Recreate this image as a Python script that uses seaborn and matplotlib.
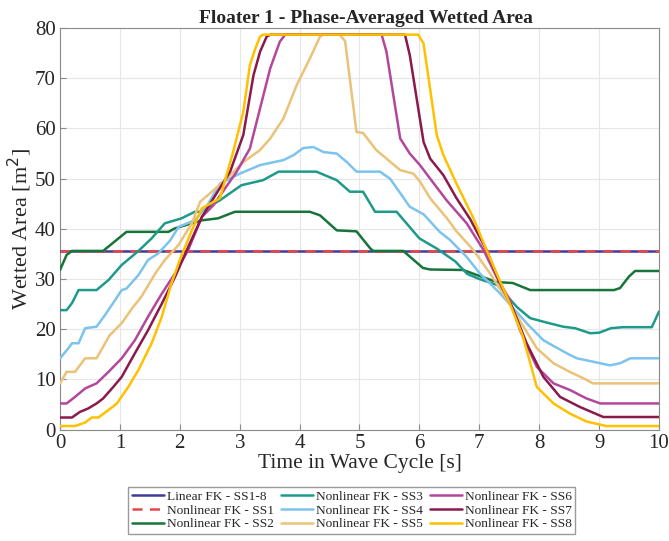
import numpy as np
import pandas as pd
import matplotlib
matplotlib.use("Agg")
import matplotlib.pyplot as plt
import seaborn as sns

# flat lines (linear FK and nonlinear SS1)
t_flat = [0, 10]
a_linear = [35.6, 35.6]
a_ss1 = [35.6, 35.6]

# SS2
t_ss2 = [0, 0.11, 0.2, 0.72, 1.11, 1.81, 1.92, 2.37, 2.64, 2.92, 4.17, 4.34, 4.62, 4.95, 5.18, 5.23,
         5.73, 6.06, 6.18, 6.73, 6.96, 7.29, 7.56, 7.85, 9.25, 9.35, 9.5, 9.6, 10]
a_ss2 = [31.8, 34.8, 35.6, 35.6, 39.4, 39.4, 40.1, 41.7, 42.1, 43.4, 43.4, 42.7, 39.7, 39.5, 36.1, 35.6,
         35.6, 32.2, 31.9, 31.8, 30.8, 29.4, 29.2, 27.8, 27.8, 28.2, 30.5, 31.6, 31.6]

# SS3
t_ss3 = [0, 0.11, 0.2, 0.31, 0.61, 0.81, 1.03, 1.31, 1.53, 1.75, 2.03, 2.25, 2.34, 2.67, 3.03, 3.39,
         3.65, 4.28, 4.62, 4.84, 5.06, 5.26, 5.62, 6.0, 6.3, 6.6, 6.8, 7.0, 7.3, 7.63, 7.85, 8.1, 8.4,
         8.6, 8.85, 9.0, 9.2, 9.4, 9.88, 10]
a_ss3 = [23.8, 23.8, 25.2, 27.8, 27.8, 29.8, 32.8, 35.6, 38.1, 41.1, 42.1, 43.4, 43.4, 45.7, 48.7, 49.7,
         51.4, 51.4, 49.7, 47.4, 47.4, 43.4, 43.4, 38.1, 36.0, 33.5, 31.0, 30.0, 28.8, 24.4, 22.2, 21.4, 20.5,
         20.2, 19.2, 19.3, 20.2, 20.4, 20.4, 23.5]

# SS4
t_ss4 = [0, 0.14, 0.2, 0.31, 0.42, 0.61, 0.75, 0.92, 1.03, 1.11, 1.31, 1.47, 1.64, 1.84, 1.98, 2.25,
         2.45, 2.67, 3.0, 3.34, 3.73, 3.9, 4.06, 4.23, 4.4, 4.62, 4.79, 4.95, 5.34, 5.51, 5.84, 6.07,
         6.34, 6.51, 6.79, 7.01, 7.35, 7.79, 8.07, 8.46, 8.63, 8.79, 9.18, 9.35, 9.52, 10]
a_ss4 = [14.2, 16.2, 17.2, 17.2, 20.2, 20.5, 22.8, 25.8, 27.8, 28.1, 30.8, 33.8, 35.1, 37.7, 40.4, 41.7,
         44.5, 49.0, 51.0, 52.7, 53.7, 54.7, 56.1, 56.3, 55.3, 55.0, 53.3, 51.4, 51.4, 50.0, 44.4, 42.9,
         39.4, 37.8, 34.4, 31.1, 27.1, 21.2, 17.8, 15.2, 14.2, 13.8, 12.8, 13.2, 14.2, 14.2]

# SS5
t_ss5 = [0, 0.11, 0.25, 0.42, 0.61, 0.83, 1.03, 1.2, 1.36, 1.59, 1.75, 1.98, 2.2, 2.34, 2.73, 3.06,
         3.34, 3.51, 3.73, 3.95, 4.17, 4.34, 4.4, 4.67, 4.76, 4.95, 5.06, 5.28, 5.45, 5.68, 5.9, 6.01,
         6.18, 6.46, 6.62, 6.9, 7.18, 7.4, 7.96, 8.24, 8.51, 8.74, 8.9, 10]
a_ss5 = [9.2, 11.5, 11.5, 14.2, 14.2, 18.8, 21.2, 24.1, 26.5, 31.1, 33.8, 36.8, 41.1, 45.4, 49.4, 53.3,
         55.7, 58.0, 62.0, 68.6, 73.9, 78.3, 78.7, 78.7, 77.4, 59.3, 59.1, 55.7, 54.0, 51.7, 51.0, 49.4,
         46.1, 42.1, 39.5, 35.8, 31.1, 27.1, 16.2, 13.2, 11.5, 10.2, 9.2, 9.2]

# SS6
t_ss6 = [0, 0.11, 0.25, 0.42, 0.61, 0.81, 1.03, 1.25, 1.47, 1.7, 1.92, 2.14, 2.37, 2.56, 2.95, 3.17,
         3.34, 3.51, 3.67, 3.76, 5.37, 5.45, 5.68, 5.84, 6.01, 6.18, 6.46, 6.79, 7.07, 7.29, 7.51, 7.68,
         7.96, 8.24, 8.51, 8.79, 9.02, 10]
a_ss6 = [5.2, 5.2, 6.5, 8.2, 9.2, 11.5, 14.2, 17.8, 22.5, 27.1, 31.1, 35.8, 42.4, 44.7, 51.4, 56.0,
         64.0, 72.0, 77.3, 78.7, 78.7, 75.3, 58.0, 55.0, 52.7, 50.0, 45.6, 41.1, 35.8, 30.4, 25.8, 19.8,
         12.5, 9.2, 7.9, 6.2, 5.2, 5.2]

# SS7
t_ss7 = [0, 0.2, 0.33, 0.47, 0.61, 0.72, 0.89, 1.03, 1.25, 1.47, 1.7, 1.92, 2.14, 2.37, 2.84, 3.06,
         3.23, 3.34, 3.45, 3.51, 5.76, 5.84, 6.07, 6.18, 6.4, 6.62, 6.85, 7.12, 7.35, 7.57, 7.79, 8.07,
         8.35, 8.68, 9.07, 10]
a_ss7 = [2.4, 2.4, 3.5, 4.2, 5.2, 6.2, 8.5, 10.5, 15.2, 19.8, 25.1, 30.4, 36.4, 42.4, 51.4, 58.7,
         70.6, 75.3, 78.3, 78.7, 78.7, 74.6, 57.3, 54.0, 50.7, 46.1, 41.9, 35.8, 29.1, 23.8, 17.2, 10.5,
         6.5, 4.5, 2.5, 2.5]

# SS8
t_ss8 = [0, 0.25, 0.42, 0.53, 0.64, 0.81, 0.95, 1.14, 1.31, 1.53, 1.7, 1.86, 2.0, 2.2, 2.37, 2.67,
         2.89, 3.06, 3.17, 3.26, 3.34, 3.39, 5.98, 6.07, 6.29, 6.4, 6.62, 6.9, 7.12, 7.29, 7.51, 7.73,
         7.96, 8.24, 8.51, 8.79, 9.12, 10]
a_ss8 = [0.7, 0.7, 1.4, 2.4, 2.4, 3.9, 5.2, 8.5, 11.9, 17.2, 22.5, 29.1, 33.8, 39.7, 44.1, 46.1,
         55.3, 63.3, 72.6, 75.9, 78.3, 78.7, 78.7, 76.9, 58.7, 54.7, 49.0, 42.2, 35.8, 31.1, 25.1, 18.5,
         8.5, 5.2, 3.2, 1.6, 0.7, 0.7]

labels = ["Linear FK - SS1-8", "Nonlinear FK - SS1", "Nonlinear FK - SS2", "Nonlinear FK - SS3",
          "Nonlinear FK - SS4", "Nonlinear FK - SS5", "Nonlinear FK - SS6", "Nonlinear FK - SS7",
          "Nonlinear FK - SS8"]
colors = ["#3f3a9a", "#e8474a", "#17743a", "#1e9a8a", "#7cc3ee", "#eac27a", "#b3479c", "#8a1a4c",
          "#ffc000"]

series = [(t_flat, a_linear), (t_flat, a_ss1), (t_ss2, a_ss2), (t_ss3, a_ss3), (t_ss4, a_ss4),
          (t_ss5, a_ss5), (t_ss6, a_ss6), (t_ss7, a_ss7), (t_ss8, a_ss8)]

sns.set_style("whitegrid", {"grid.color": "#e6e6e6", "axes.edgecolor": "#8a8a8a"})
plt.rcParams["font.family"] = ["Liberation Serif", "DejaVu Serif"]

fig = plt.figure(figsize=(6.69, 5.41), dpi=100)
ax = fig.add_axes([0.0897, 0.206, 0.8953, 0.742])

# plotting order as in the source: later series sit on top
for i, (t, a) in enumerate(series):
    df = pd.DataFrame({"t": t, "a": a})
    ls = (0, (4, 3)) if i == 1 else "-"
    sns.lineplot(data=df, x="t", y="a", ax=ax, color=colors[i], linewidth=1.8,
                 linestyle=ls, label=labels[i], zorder=3 + i)

ax.set_xlim(0, 10)
ax.set_ylim(0, 80)
ax.set_xticks(range(0, 11))
ax.set_yticks(range(0, 81, 10))
ax.tick_params(labelsize=15, direction="in", length=4, color="#8a8a8a", bottom=True, left=True, pad=3)
ax.set_xlabel("Time in Wave Cycle [s]", fontsize=15.5, labelpad=1)
ax.set_ylabel("Wetted Area [m$^2$]", fontsize=16, labelpad=1)
ax.set_title("Floater 1 - Phase-Averaged Wetted Area", fontsize=14, fontweight="bold", pad=4, x=0.51)
for s in ax.spines.values():
    s.set_linewidth(0.8)

handles, labs = ax.get_legend_handles_labels()
hmap = dict(zip(labs, handles))
ax.legend([hmap[l] for l in labels], labels, ncol=3, loc="upper center",
          bbox_to_anchor=(0.487, -0.143), fontsize=9.6, frameon=True, fancybox=False,
          framealpha=1, edgecolor="#9a9a9a", handlelength=2.4, handletextpad=0.25,
          columnspacing=0.5, labelspacing=0.12, borderpad=0.25, borderaxespad=0)

fig.savefig("out.png", dpi=100)
